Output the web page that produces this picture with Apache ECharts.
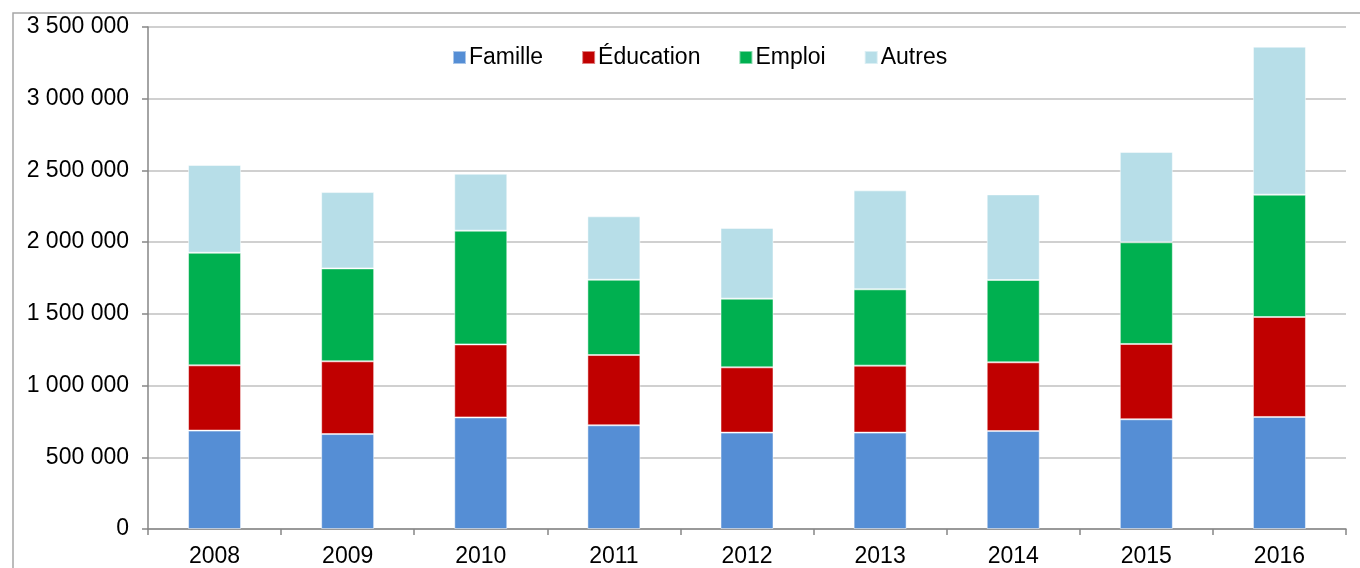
<!DOCTYPE html>
<html>
<head>
<meta charset="utf-8">
<script src="https://cdn.jsdelivr.net/npm/echarts@6/dist/echarts.min.js"></script>
<style>
  html, body { margin: 0; padding: 0; background: #fff; }
  #main { width: 1360px; height: 568px; }
</style>
</head>
<body>
<div id="main"></div>
<script>
// années
var years = ['2008', '2009', '2010', '2011', '2012', '2013', '2014', '2015', '2016'];

// valeurs (empilées)
var famille   = [686000, 662000, 778000, 723000, 672000, 672000, 683000, 765000, 781000];
var education = [455000, 507000, 509000, 490000, 455000, 467000, 479000, 525000, 697000];
var emploi    = [785000, 648000, 793000, 525000, 479000, 532000, 574000, 709000, 853000];
var autres    = [612000, 532000, 397000, 442000, 493000, 690000, 597000, 630000, 1032000];

var seriesNames = ['Famille', 'Éducation', 'Emploi', 'Autres'];
var seriesColors = ['#558ED5', '#C00000', '#00B050', '#B7DEE8'];

function fmt(v) {
    return String(v).replace(/\B(?=(\d{3})+(?!\d))/g, ' ');
}

var myChart = echarts.init(document.getElementById('main'));

function bar(name, data, color) {
    return {
        name: name,
        type: 'bar',
        stack: 'total',
        barWidth: 53,
        data: data,
        itemStyle: {
            color: color,
            borderColor: 'rgba(255,255,255,0.5)',
            borderWidth: 1
        }
    };
}

var option = {
    animation: false,
    textStyle: { fontFamily: 'Liberation Sans, Arial, sans-serif' },
    graphic: [
        {
            type: 'polyline',
            shape: { points: [[13, 600], [13, 13], [1400, 13]] },
            style: { stroke: '#a6a6a6', lineWidth: 1.5, fill: null }
        }
    ],
    legend: {
        data: seriesNames,
        left: 447,
        top: 41,
        icon: 'rect',
        itemWidth: 13,
        itemHeight: 13,
        itemGap: 38,
        textStyle: { fontSize: 23, color: '#000', padding: [0, 0, 0, -2] }
    },
    grid: {
        left: 148,
        right: 14,
        top: 27,
        bottom: 39
    },
    xAxis: {
        type: 'category',
        data: years,
        axisLine: { lineStyle: { color: '#868686', width: 1.5 } },
        axisTick: { show: true, length: 6, lineStyle: { color: '#868686', width: 1.5 } },
        axisLabel: { fontSize: 23, color: '#000', margin: 16 }
    },
    yAxis: {
        type: 'value',
        min: 0,
        max: 3500000,
        interval: 500000,
        axisLine: { show: true, lineStyle: { color: '#868686', width: 1.5 } },
        axisTick: { show: true, length: 6, lineStyle: { color: '#868686', width: 1.5 } },
        splitLine: { lineStyle: { color: '#c0c0c0', width: 1.5 } },
        axisLabel: { fontSize: 23, color: '#000', margin: 19, formatter: fmt }
    },
    series: [
        bar(seriesNames[0], famille, seriesColors[0]),
        bar(seriesNames[1], education, seriesColors[1]),
        bar(seriesNames[2], emploi, seriesColors[2]),
        bar(seriesNames[3], autres, seriesColors[3])
    ]
};
myChart.setOption(option);
</script>
</body>
</html>
